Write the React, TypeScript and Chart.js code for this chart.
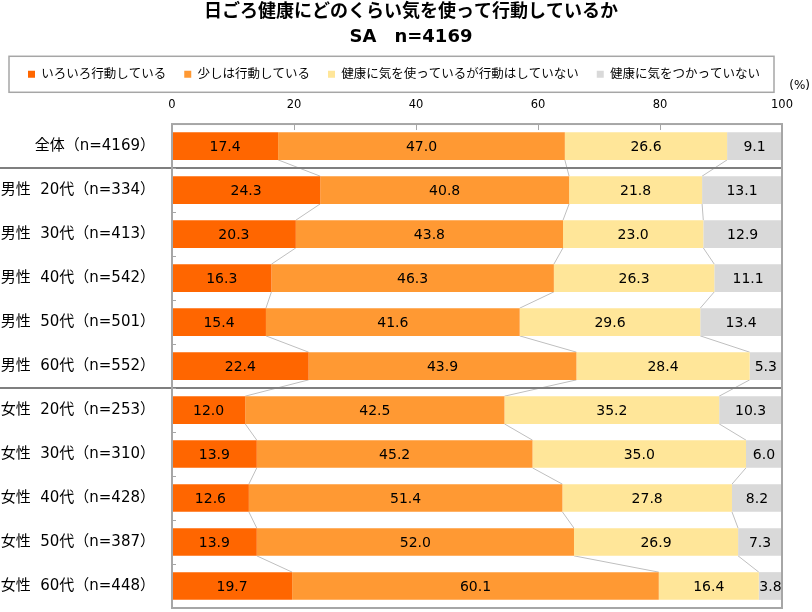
import React, { useEffect, useRef } from "react";
import { Chart, registerables } from "chart.js";

Chart.register(...registerables);

const titleLines = ["日ごろ健康にどのくらい気を使って行動しているか", "SA\u3000n=4169"];
const categories = [
  "全体（n=4169）",
  "男性  20代（n=334）",
  "男性  30代（n=413）",
  "男性  40代（n=542）",
  "男性  50代（n=501）",
  "男性  60代（n=552）",
  "女性  20代（n=253）",
  "女性  30代（n=310）",
  "女性  40代（n=428）",
  "女性  50代（n=387）",
  "女性  60代（n=448）",
];
const seriesNames = [
  "いろいろ行動している",
  "少しは行動している",
  "健康に気を使っているが行動はしていない",
  "健康に気をつかっていない",
];
const actingVarious = [17.4, 24.3, 20.3, 16.3, 15.4, 22.4, 12.0, 13.9, 12.6, 13.9, 19.7];
const actingLittle = [47.0, 40.8, 43.8, 46.3, 41.6, 43.9, 42.5, 45.2, 51.4, 52.0, 60.1];
const careNoAction = [26.6, 21.8, 23.0, 26.3, 29.6, 28.4, 35.2, 35.0, 27.8, 26.9, 16.4];
const noCare = [9.1, 13.1, 12.9, 11.1, 13.4, 5.3, 10.3, 6.0, 8.2, 7.3, 3.8];
const seriesColors = ["#FF6600", "#FF9933", "#FFE699", "#D9D9D9"];
const xTicks = [0, 20, 40, 60, 80, 100];
const groupBreaks = [1, 6];

const FONT = "'DejaVu Sans', 'Noto Sans CJK JP', sans-serif";

const decorPlugin = {
  id: "decor",
  afterLayout(chart: any) {
    // let the category labels use the full left margin without clipping
    if (chart.scales.y) chart.scales.y.left = 0;
  },
  beforeDatasetsDraw(chart: any) {
    const ctx = chart.ctx;
    const area = chart.chartArea;
    const yScale = chart.scales.y;
    ctx.save();
    ctx.strokeStyle = "#BFBFBF";
    ctx.lineWidth = 1;
    for (let d = 0; d < 3; d++) {
      const meta = chart.getDatasetMeta(d);
      for (let i = 0; i < meta.data.length - 1; i++) {
        const a = meta.data[i];
        const b = meta.data[i + 1];
        ctx.beginPath();
        ctx.moveTo(a.x, a.y + a.height / 2);
        ctx.lineTo(b.x, b.y - b.height / 2);
        ctx.stroke();
      }
    }
    ctx.strokeStyle = "#7F7F7F";
    ctx.lineWidth = 2;
    groupBreaks.forEach((k) => {
      const y = (yScale.getPixelForValue(k - 1) + yScale.getPixelForValue(k)) / 2;
      ctx.beginPath();
      ctx.moveTo(0, y);
      ctx.lineTo(area.right, y);
      ctx.stroke();
    });
    ctx.restore();
  },
  afterDatasetsDraw(chart: any) {
    const ctx = chart.ctx;
    const area = chart.chartArea;
    const xScale = chart.scales.x;
    const yScale = chart.scales.y;
    ctx.save();
    ctx.font = `14px ${FONT}`;
    ctx.fillStyle = "#000";
    ctx.textAlign = "center";
    ctx.textBaseline = "middle";
    chart.data.datasets.forEach((ds: any, d: number) => {
      const meta = chart.getDatasetMeta(d);
      meta.data.forEach((el: any, i: number) => {
        const x1 = Math.min(el.x, area.right);
        const cx = (x1 + el.base) / 2;
        ctx.fillText(Number(ds.data[i]).toFixed(1), cx, el.y + 1);
      });
    });
    ctx.strokeStyle = "#A6A6A6";
    ctx.lineWidth = 2;
    ctx.strokeRect(area.left, area.top, area.right - area.left, area.bottom - area.top);
    ctx.lineWidth = 1;
    xTicks.slice(1, -1).forEach((v) => {
      const x = Math.round(xScale.getPixelForValue(v)) + 0.5;
      ctx.beginPath();
      ctx.moveTo(x, area.top);
      ctx.lineTo(x, area.top + 6);
      ctx.stroke();
    });
    for (let i = 1; i < categories.length; i++) {
      const y = Math.round((yScale.getPixelForValue(i - 1) + yScale.getPixelForValue(i)) / 2) + 0.5;
      ctx.beginPath();
      ctx.moveTo(area.left, y);
      ctx.lineTo(area.left + 4, y);
      ctx.stroke();
    }
    ctx.restore();
  },
  afterDraw(chart: any) {
    const ctx = chart.ctx;
    const hb = chart.legend && chart.legend.legendHitBoxes;
    ctx.save();
    if (hb && hb.length) {
      const first = hb[0];
      const last = hb[hb.length - 1];
      const x1 = first.left - 19;
      const x2 = last.left + last.width + 14;
      const y1 = first.top + first.height / 2 - 18;
      ctx.strokeStyle = "#A6A6A6";
      ctx.lineWidth = 1.5;
      ctx.strokeRect(x1, y1, x2 - x1, 36);
    }
    ctx.font = `12px ${FONT}`;
    ctx.fillStyle = "#000";
    ctx.textAlign = "right";
    ctx.textBaseline = "middle";
    ctx.fillText("(%)", 810, 86);
    ctx.restore();
  },
};

export default function App() {
  const ref = useRef<HTMLCanvasElement | null>(null);
  useEffect(() => {
    if (!ref.current) return;
    const values = [actingVarious, actingLittle, careNoAction, noCare];
    const chart = new Chart(ref.current, {
      type: "bar",
      data: {
        labels: categories,
        datasets: seriesNames.map((name, i) => ({
          label: name,
          data: values[i],
          backgroundColor: seriesColors[i],
          borderWidth: 0,
          barPercentage: 0.63,
          categoryPercentage: 1,
        })),
      },
      options: {
        indexAxis: "y",
        responsive: false,
        animation: false,
        devicePixelRatio: 1,
        layout: { padding: { left: 10, right: 0, top: 0, bottom: 4 } },
        scales: {
          x: {
            position: "top",
            stacked: true,
            min: 0,
            max: 100,
            grid: { display: false, drawTicks: false },
            border: { display: false },
            ticks: {
              stepSize: 20,
              padding: 12,
              color: "#000",
              font: { family: FONT, size: 11.5 },
            },
            afterFit(scale: any) {
              scale.height = 33.5;
              scale.paddingLeft = 0;
              scale.paddingRight = 30;
            },
          },
          y: {
            stacked: true,
            grid: { display: false, drawTicks: false },
            border: { display: false },
            ticks: {
              padding: 17,
              color: "#000",
              font: { family: FONT, size: 15 },
            },
            afterFit(scale: any) {
              scale.width = 162;
              scale.paddingTop = 0;
              scale.paddingBottom = 0;
            },
          },
        },
        plugins: {
          title: {
            display: true,
            text: titleLines,
            color: "#000",
            font: { family: FONT, size: 18, weight: "bold", lineHeight: 1.39 },
            padding: { top: 0, bottom: 0 },
          },
          legend: {
            display: true,
            position: "top",
            align: "start",
            labels: {
              boxWidth: 7,
              boxHeight: 7,
              padding: 18,
              color: "#000",
              font: { family: FONT, size: 12.5 },
            },
          },
          tooltip: { enabled: false },
        },
      },
      plugins: [decorPlugin],
    } as any);
    return () => chart.destroy();
  }, []);
  return (
    <div style={{ position: "absolute", left: 0, top: 0, width: 812, height: 612, background: "#fff" }}>
      <canvas ref={ref} width={812} height={612} />
    </div>
  );
}
